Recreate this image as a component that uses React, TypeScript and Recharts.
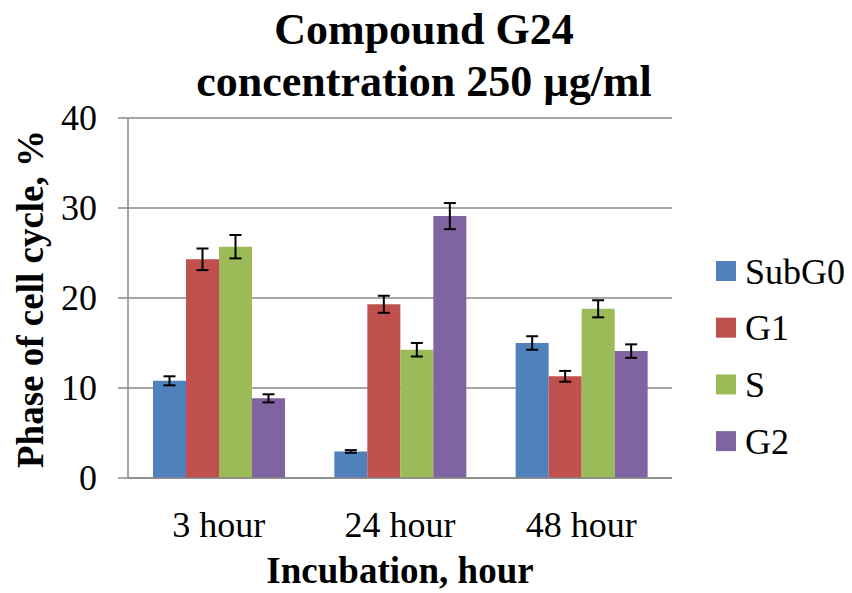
import { Bar, BarChart, CartesianGrid, Customized, ErrorBar, XAxis, YAxis } from "recharts"

// Incubation times on the x axis
const categories = ["3 hour", "24 hour", "48 hour"]

// Phase of cell cycle, %
const subG0 = [10.8, 2.95, 15.0]
const subG0Err = [0.5, 0.15, 0.75]
const g1 = [24.3, 19.3, 11.3]
const g1Err = [1.2, 0.95, 0.6]
const sPhase = [25.7, 14.25, 18.8]
const sPhaseErr = [1.3, 0.75, 0.95]
const g2 = [8.85, 29.1, 14.1]
const g2Err = [0.45, 1.45, 0.75]

const yTicks = [0, 10, 20, 30, 40]

const series = [
  { key: "subG0", name: "SubG0", color: "#4F81BD" },
  { key: "g1", name: "G1", color: "#C0504D" },
  { key: "s", name: "S", color: "#9BBB59" },
  { key: "g2", name: "G2", color: "#8064A2" },
]

const data = categories.map((name, i) => ({
  name,
  subG0: subG0[i],
  subG0Err: subG0Err[i],
  g1: g1[i],
  g1Err: g1Err[i],
  s: sPhase[i],
  sErr: sPhaseErr[i],
  g2: g2[i],
  g2Err: g2Err[i],
}))

const FONT = '"Liberation Serif", "Times New Roman", serif'
const GRID = "#888888"

// tick label renderers so the font is set on the text itself
const XTick = (props: any) => (
  <text x={props.x} y={props.y + 53} textAnchor="middle" fontSize={36} fill="#000" style={{ fontFamily: FONT }}>
    {props.payload.value}
  </text>
)

const YTick = (props: any) => (
  <text x={props.x} y={props.y} dy="0.34em" textAnchor="end" fontSize={36} fill="#000" style={{ fontFamily: FONT }}>
    {props.payload.value}
  </text>
)

// titles and legend drawn straight into the svg
const Decorations = () => (
  <g fill="#000">
    <text x={424} y={44} textAnchor="middle" fontSize={44} fontWeight="bold" style={{ fontFamily: FONT }}>
      Compound G24
    </text>
    <text x={424} y={96} textAnchor="middle" fontSize={44} fontWeight="bold" style={{ fontFamily: FONT }}>
      concentration 250 µg/ml
    </text>
    <text x={400} y={583} textAnchor="middle" fontSize={37} fontWeight="bold" style={{ fontFamily: FONT }}>
      Incubation, hour
    </text>
    <text
      x={43}
      y={299}
      textAnchor="middle"
      fontSize={37}
      fontWeight="bold"
      transform="rotate(-90, 43, 299)"
      style={{ fontFamily: FONT }}
    >
      Phase of cell cycle, %
    </text>
    {series.map((s, i) => (
      <g key={s.key}>
        <rect x={716} y={261 + i * 56.7} width={20} height={20} fill={s.color} />
        <text x={745} y={271 + i * 56.7} dy="0.35em" fontSize={36} style={{ fontFamily: FONT }}>
          {s.name}
        </text>
      </g>
    ))}
  </g>
)

export default function App() {
  return (
    <div style={{ position: "absolute", left: 0, top: 0, background: "#fff" }}>
      <BarChart
        width={852}
        height={593}
        data={data}
        margin={{ top: 118, right: 180, left: 0, bottom: 55 }}
        barCategoryGap={25}
        barGap={0}
      >
        <CartesianGrid vertical={false} stroke={GRID} strokeWidth={1.5} />
        <XAxis
          dataKey="name"
          height={60}
          tickLine={false}
          axisLine={{ stroke: GRID, strokeWidth: 1.5 }}
          tickMargin={0}
          tick={<XTick />}
        />
        <YAxis
          width={128}
          domain={[0, 40]}
          ticks={yTicks}
          tickSize={10}
          tickMargin={21}
          axisLine={{ stroke: GRID, strokeWidth: 1.5 }}
          tickLine={{ stroke: GRID, strokeWidth: 1.5 }}
          tick={<YTick />}
        />
        {series.map((s) => (
          <Bar key={s.key} dataKey={s.key} name={s.name} fill={s.color} isAnimationActive={false}>
            <ErrorBar
              dataKey={`${s.key}Err`}
              width={6}
              stroke="#000"
              strokeWidth={2}
              isAnimationActive={false}
            />
          </Bar>
        ))}
        <Customized component={Decorations} />
      </BarChart>
    </div>
  )
}
